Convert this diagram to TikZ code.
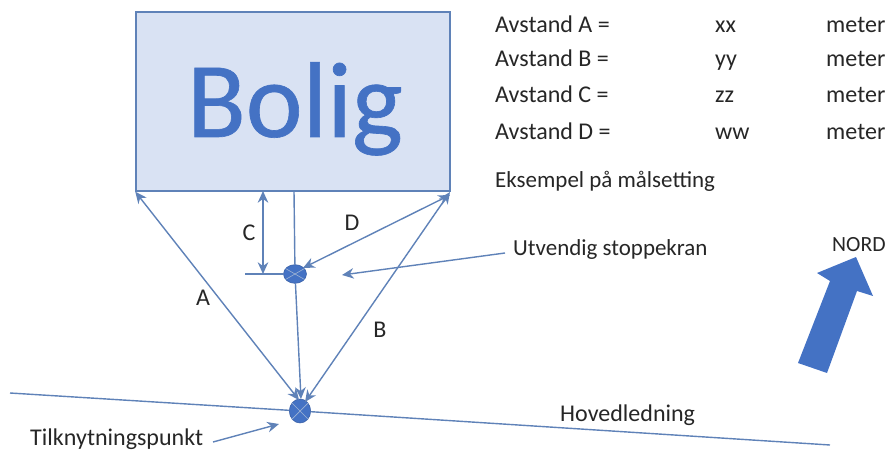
\documentclass[tikz,border=0pt]{standalone}
\usepackage{fontspec}
\setmainfont{Carlito}
\newfontfamily\boligfont{Carlito}[FakeBold=0.6]
\usetikzlibrary{shapes.geometric,arrows.meta}
\definecolor{boligblue}{HTML}{4472C4}
\definecolor{boligfill}{HTML}{D9E2F3}
\definecolor{lineblue}{HTML}{5F82B8}
\definecolor{textgrey}{HTML}{262626}
\tikzset{
  lbl/.style={anchor=base west, inner sep=0pt, text=textgrey, font=\fontsize{20.5}{22}\selectfont},
  lblsm/.style={lbl, font=\fontsize{19.6}{22}\selectfont},
  mrk/.style={anchor=base, inner sep=0pt, text=textgrey, font=\fontsize{20.5}{22}\selectfont},
  lnk/.style={draw=lineblue, line width=1.2pt},
  pil/.style={lnk, -{Stealth[length=10pt,width=9pt]}},
  dbl/.style={lnk, {Stealth[length=10pt,width=9pt]}-{Stealth[length=10pt,width=9pt]}},
  kran/.style={ellipse, fill=boligblue, draw=boligblue!85!black, line width=.5pt, inner sep=0pt}
}
\begin{document}
\begin{tikzpicture}[x=0.03cm, y=-0.03cm]
\useasboundingbox (0,0) rectangle (890,450);
\node[draw=lineblue, fill=boligfill, line width=1.2pt, minimum width=9.42cm, minimum height=5.37cm, inner sep=0pt] (bolig) at (293,101.5){};
\node[anchor=base, inner sep=0pt, text=boligblue, font=\boligfont\fontsize{92}{94}\selectfont] (boligtxt) at (295,137){Bolig};
\node[kran, minimum width=.69cm, minimum height=.56cm] (stopp) at (295,274){};
\node[kran, minimum width=.64cm, minimum height=.72cm] (tilk) at (300,411){};
\draw[draw=lineblue!60, line width=.5pt](stopp.150) -- (stopp.330);
\draw[draw=lineblue!60, line width=.5pt](stopp.30) -- (stopp.210);
\draw[draw=lineblue!60, line width=.6pt](tilk.45) -- (tilk.225);
\draw[draw=lineblue!60, line width=.6pt](tilk.135) -- (tilk.315);

\coordinate (ctop) at (263,191);
\coordinate (cbot) at (263,274);
\coordinate (cleft) at (245,274);
\coordinate (venstre) at (10,393);
\coordinate (hoyre) at (830,445);
\coordinate (dtop) at (450,195);
\coordinate (midt) at (294,191);
\coordinate (tilktop) at (301,399);
\coordinate (btop) at (450,192);
\coordinate (btip) at (305,402);
\coordinate (atip) at (299,400);
\coordinate (stopptip) at (303,268);

\draw[dbl](bolig.south west) -- (atip);
\draw[dbl](btop) -- (btip);
\draw[dbl](dtop) -- (stopptip);
\draw[dbl](ctop) -- (cbot);
\draw[lnk](cleft) -- (stopp);
\draw[lnk](midt) -- (stopp);
\draw[pil](stopp) -- (tilktop);
\draw[lnk](venstre) -- (tilk);
\draw[lnk](tilk) -- (hoyre);

\node[lbl] (a1) at (495,33){Avstand A =};
\node[lbl] (b1) at (495,67){Avstand B =};
\node[lbl] (c1) at (495,103){Avstand C =};
\node[lbl] (d1) at (495,139){Avstand D =};
\node[lbl] (a2) at (715,33){xx};
\node[lbl] (b2) at (715,67){yy};
\node[lbl] (c2) at (715,103){zz};
\node[lbl] (d2) at (715,139){ww};
\node[lbl] (a3) at (826,33){meter};
\node[lbl] (b3) at (826,67){meter};
\node[lbl] (c3) at (826,103){meter};
\node[lbl] (d3) at (826,139){meter};
\node[lblsm] (maal) at (495,187){Eksempel på målsetting};

\node[lblsm] (utv) at (513,255){Utvendig stoppekran};
\coordinate (utvfra) at (505,253);
\coordinate (utvtip) at (342,275);
\draw[pil](utvfra) -- (utvtip);
\node[lbl] (hoved) at (560,421){Hovedledning};
\node[lbl] (tilkn) at (30,445){Tilknytningspunkt};
\coordinate (tilkfra) at (213,442);
\coordinate (tilktip) at (279,424);
\draw[pil](tilkfra) -- (tilktip);

\node[mrk] (la) at (203,305){A};
\node[mrk] (lb) at (380,337){B};
\node[mrk] (lc) at (249,240){C};
\node[mrk] (ld) at (352,230){D};

\node[lbl, font=\fontsize{18.5}{20}\selectfont] (nord) at (832,251){NORD};
\fill[boligblue] (856,257) -- (873,296) -- (857,291) -- (827,373) -- (798,363) -- (830,281) -- (817,273) -- cycle;
\end{tikzpicture}
\end{document}
